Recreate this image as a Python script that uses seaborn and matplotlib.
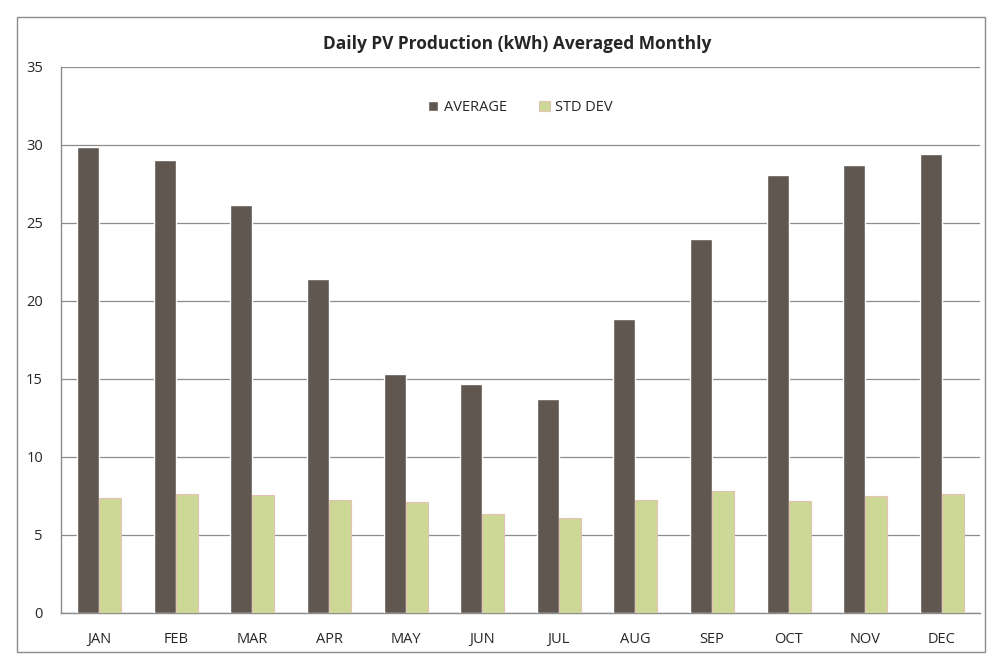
import matplotlib
matplotlib.use("Agg")
import matplotlib.pyplot as plt
import numpy as np
import pandas as pd
import seaborn as sns

months = ["JAN", "FEB", "MAR", "APR", "MAY", "JUN",
          "JUL", "AUG", "SEP", "OCT", "NOV", "DEC"]
average = [29.9, 29.05, 26.15, 21.4, 15.3, 14.7,
           13.75, 18.85, 24.0, 28.1, 28.75, 29.45]
std_dev = [7.35, 7.65, 7.55, 7.25, 7.1, 6.35,
           6.1, 7.25, 7.8, 7.15, 7.5, 7.65]

df = pd.DataFrame({
    "month": months * 2,
    "value": average + std_dev,
    "series": ["AVERAGE"] * 12 + ["STD DEV"] * 12,
})

sns.set_style("white")
plt.rcParams["font.family"] = ["Open Sans", "DejaVu Sans"]

fig = plt.figure(figsize=(9.99, 6.70), dpi=100)
ax = fig.add_axes([61 / 999, 1 - 613 / 670, 919 / 999, 546 / 670])

sns.barplot(
    data=df, x="month", y="value", hue="series",
    palette=["#5f5750", "#cdd897"], saturation=1,
    width=0.575, gap=0, ax=ax, zorder=3,
)
for bar in ax.patches:
    if bar.get_facecolor()[0] > 0.6:
        bar.set_edgecolor("#e2c2b0")
        bar.set_linewidth(0.8)

ax.set_ylim(0, 35)
ax.set_xlim(-0.5, 11.5)
ax.set_yticks(np.arange(0, 36, 5))
ax.yaxis.grid(True, color="#8c8c8c", linewidth=0.9, zorder=0)
ax.set_axisbelow(True)
ax.set_xlabel("")
ax.set_ylabel("")
ax.set_xticks(np.arange(12))
ax.set_xticklabels(months)
ax.set_xticks(np.arange(-0.5, 12, 1), minor=True)
ax.tick_params(axis="x", which="major", length=0, pad=14, labelsize=10.5)
ax.tick_params(axis="x", which="minor", length=5, color="#8c8c8c", direction="out")
ax.tick_params(axis="y", length=5, color="#8c8c8c", direction="out", labelsize=10.5, pad=8)
for side in ["top", "right"]:
    ax.spines[side].set_visible(False)
for side in ["left", "bottom"]:
    ax.spines[side].set_color("#8c8c8c")
    ax.spines[side].set_linewidth(1.0)

ax.legend(
    loc="center", bbox_to_anchor=(0.5, 0.925), ncol=2, frameon=False,
    handlelength=0.7, handleheight=0.7, columnspacing=2.2, handletextpad=0.4,
    fontsize=10.5,
)

fig.text(0.518, 1 - 44 / 670, "Daily PV Production (kWh) Averaged Monthly",
         ha="center", va="center", fontsize=12.5, fontweight="bold")

border = plt.Rectangle((17 / 999, 1 - 652 / 670), 968 / 999, 635 / 670,
                       transform=fig.transFigure, fill=False,
                       edgecolor="#8c8c8c", linewidth=1.0)
fig.patches.append(border)

fig.savefig("out.png", dpi=100)
